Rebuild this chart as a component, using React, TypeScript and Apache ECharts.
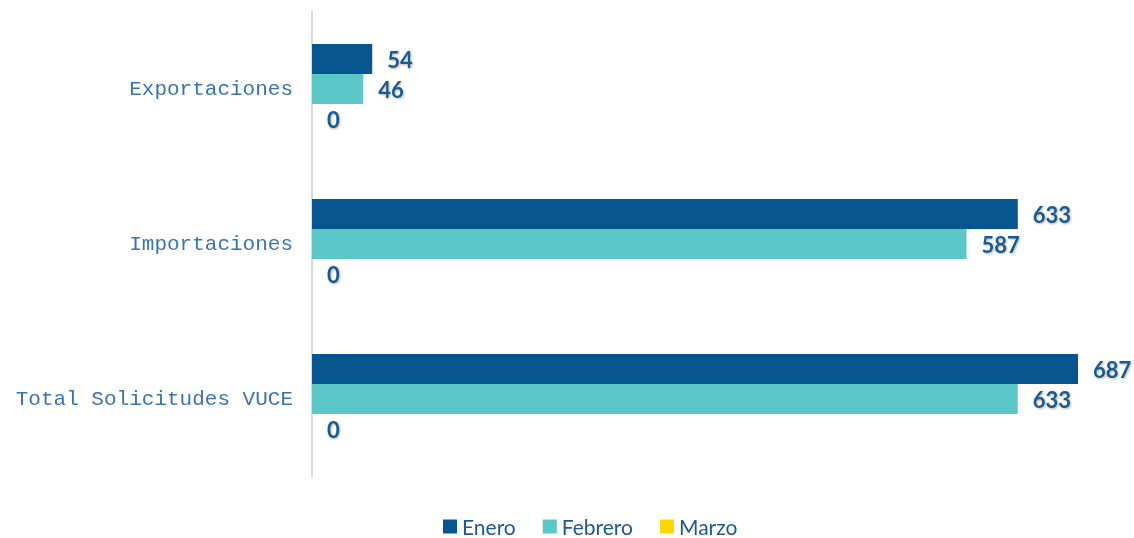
import React, { useEffect, useRef } from "react";
import * as echarts from "echarts";

const categories = ["Exportaciones", "Importaciones", "Total Solicitudes VUCE"];
const seriesNames = ["Enero", "Febrero", "Marzo"];
const enero = [54, 633, 687];
const febrero = [46, 587, 633];
const marzo = [0, 0, 0];
const colors = ["#08568F", "#5BC7C7", "#FFD700"];

export default function App() {
  const ref = useRef<HTMLDivElement>(null);
  useEffect(() => {
    const chart = echarts.init(ref.current!, null, { renderer: "svg" });
    const labelStyle = {
      show: true,
      position: "right" as const,
      distance: 15,
      fontFamily: "Lato",
      fontSize: 22,
      fontWeight: "bold" as const,
      color: "#1B5A8E",
      textShadowColor: "rgba(0,0,0,0.3)",
      textShadowBlur: 2,
      textShadowOffsetX: 1,
      textShadowOffsetY: 1,
    };
    const data = [enero, febrero, marzo];
    chart.setOption({
      animation: false,
      color: colors,
      grid: { left: 312, right: 56, top: 11.5, bottom: 61.5, containLabel: false },
      legend: {
        left: 438,
        top: 511,
        itemWidth: 14,
        itemHeight: 14,
        itemGap: 27,
        icon: "rect",
        textStyle: { fontFamily: "Lato", fontSize: 21, lineHeight: 21, color: "#1B5A8E" },
        data: seriesNames,
      },
      xAxis: {
        type: "value",
        min: 0,
        max: 687,
        show: false,
        splitLine: { show: false },
      },
      yAxis: {
        type: "category",
        data: categories,
        inverse: true,
        axisLine: { show: true, lineStyle: { color: "#D9D9D9", width: 2 } },
        axisTick: { show: false },
        axisLabel: {
          margin: 19,
          fontFamily: "Liberation Mono",
          fontSize: 21,
          color: "#3A74AD",
        },
      },
      series: seriesNames.map((name, i) => ({
        name,
        type: "bar",
        data: data[i],
        barWidth: 30,
        barGap: "0%",
        itemStyle: { color: colors[i] },
        label: labelStyle,
      })),
    });
    return () => chart.dispose();
  }, []);
  return (
    <div
      ref={ref}
      style={{ position: "fixed", left: 0, top: 0, width: 1134, height: 538 }}
    />
  );
}
